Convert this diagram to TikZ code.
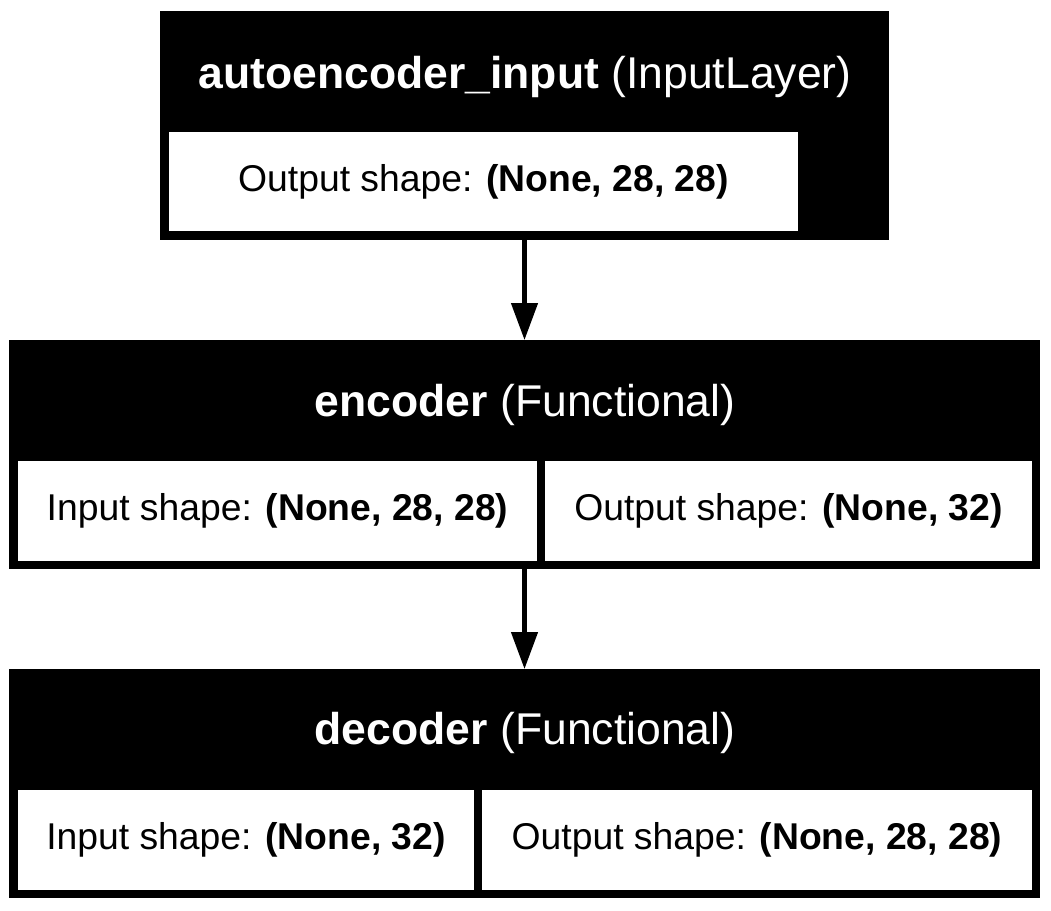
\documentclass[tikz,border=0pt]{standalone}
\usepackage{fontspec}
\setmainfont{Liberation Sans}
\usetikzlibrary{arrows.meta}
\tikzset{
  outerbox/.style={fill=black, draw=none, inner sep=0pt, outer sep=0pt},
  innerbox/.style={fill=white, draw=none, inner sep=0pt, outer sep=0pt, font=\fontsize{37.3}{45}\selectfont, text=black},
  titletext/.style={inner sep=0pt, text=white, font=\fontsize{44.5}{53}\selectfont},
  conn/.style={line width=4.5pt, -{Triangle[length=37pt,width=26pt]}}
}
\begin{document}
\begin{tikzpicture}[x=1pt,y=-1pt]
\useasboundingbox (0,0) rectangle (1051,910);
% top layer
\node[outerbox, minimum width=729pt, minimum height=229pt] (inp) at (524.5,125.5) {};
\node[titletext] (inpt) at (525,77) {\textbf{autoencoder\_input} (InputLayer)};
\node[innerbox, minimum width=629pt, minimum height=99pt] (inpo) at (483.5,181.5) {Output shape: \textbf{(None, 28, 28)}};
% encoder
\node[outerbox, minimum width=1031pt, minimum height=229pt] (enc) at (524.5,454.5) {};
\node[titletext] (enct) at (525,405) {\textbf{encoder} (Functional)};
\node[innerbox, minimum width=519pt, minimum height=100pt] (enci) at (277.5,511) {Input shape: \textbf{(None, 28, 28)}};
\node[innerbox, minimum width=487pt, minimum height=100pt] (enco) at (788.5,511) {Output shape: \textbf{(None, 32)}};
% decoder
\node[outerbox, minimum width=1031pt, minimum height=229pt] (dec) at (524.5,783.5) {};
\node[titletext] (dect) at (525,733) {\textbf{decoder} (Functional)};
\node[innerbox, minimum width=456pt, minimum height=100pt] (deci) at (246,840) {Input shape: \textbf{(None, 32)}};
\node[innerbox, minimum width=550pt, minimum height=100pt] (deco) at (757,840) {Output shape: \textbf{(None, 28, 28)}};
% connectors
\draw[conn] (inp.south) -- (enc.north);
\draw[conn] (enc.south) -- (dec.north);
\end{tikzpicture}
\end{document}
